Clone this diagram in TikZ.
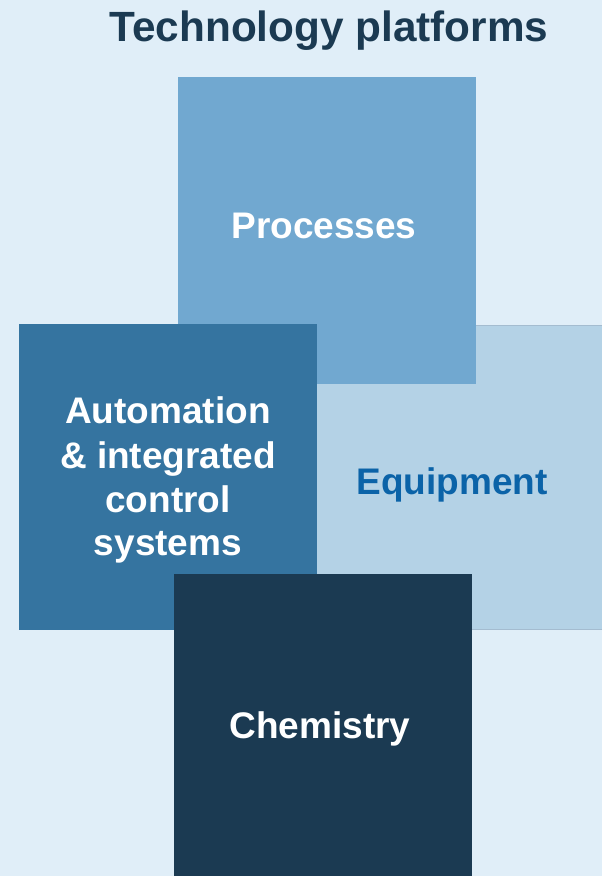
\documentclass[tikz,border=0pt]{standalone}
\usepackage{fontspec}
\setmainfont{Liberation Sans}
\definecolor{bgblue}{HTML}{E0EEF8}
\definecolor{navy}{HTML}{1B3A52}
\definecolor{midblue}{HTML}{3574A0}
\definecolor{skyblue}{HTML}{71A8D0}
\definecolor{paleblue}{HTML}{B4D2E6}
\definecolor{edgegray}{HTML}{A4BCD0}
\definecolor{textblue}{HTML}{0B63A8}
\begin{document}
\begin{tikzpicture}[x=1pt,y=-1pt,
  label/.style={font=\fontsize{37}{44}\selectfont\bfseries, align=center, inner sep=0pt},
]
% canvas
\fill[bgblue] (0,0) rectangle (602,876);
\useasboundingbox (0,0) rectangle (602,876);

% title
\node[font=\fontsize{42.3}{48}\selectfont\bfseries, text=navy, anchor=base, inner sep=0pt]
  (title) at (329,41) {Technology platforms};

% tiles, back to front
\fill[paleblue] (300,325) rectangle (602,629);
\draw[edgegray, line width=1pt] (300,629) -- (602,629);
\draw[edgegray, line width=0.8pt] (476,325) -- (602,325);
\fill[skyblue] (178,77) rectangle (476,384);
\fill[midblue] (19,324) rectangle (317,630);
\fill[navy] (174,574) rectangle (472,876);

% tile labels
\node[label, text=white, anchor=base] (proc) at (324,238) {Processes};
\node[label, text=textblue, anchor=base] (equip) at (452,494) {Equipment};
\node[label, text=white, anchor=base] (auto1) at (168,423) {Automation};
\node[label, text=white, anchor=base] (auto2) at (168,468) {\& integrated};
\node[label, text=white, anchor=base] (auto3) at (168,512) {control};
\node[label, text=white, anchor=base] (auto4) at (168,555) {systems};
\node[label, text=white, anchor=base] (chem) at (320,738) {Chemistry};
\end{tikzpicture}
\end{document}
